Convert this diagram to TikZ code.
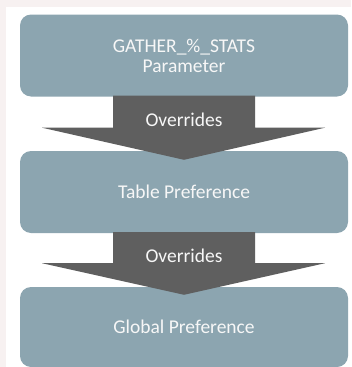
\documentclass[tikz,border=0pt]{standalone}
\usepackage{fontspec}
\setmainfont{Carlito}
\usetikzlibrary{calc}
\definecolor{pagebg}{HTML}{F7F1F1}
\definecolor{boxfill}{HTML}{8CA5B0}
\definecolor{arrowfill}{HTML}{5F5F5F}
\definecolor{txt}{HTML}{F7F7F7}
\tikzset{
  stagebox/.style={fill=boxfill, draw=none, rounded corners=11pt, minimum width=328pt, minimum height=82pt, inner sep=0pt, text=txt, align=center, font=\fontsize{19.5}{21}\selectfont},
  blockarrow/.style={fill=arrowfill, draw=none},
  arrowlabel/.style={text=txt, inner sep=0pt, font=\fontsize{19.5}{21}\selectfont}
}
\begin{document}
\begin{tikzpicture}[x=1pt,y=-1pt]
\useasboundingbox (0,0) rectangle (351,367);
\fill[pagebg] (0,0) rectangle (351,367);
\fill[white] (6,7) rectangle (351,367);
\node[stagebox] (b1) at (184,55.5) {GATHER\_\%\_STATS\\[-1pt]Parameter};
\node[stagebox] (b2) at (184,192) {Table Preference};
\node[stagebox, minimum height=80pt] (b3) at (184,327) {Global Preference};
% arrow 1
\fill[blockarrow] ($(b1.south)+(-71,-1)$) -- ($(b1.south)+(71,-1)$) -- ($(b1.south)+(71,31)$) -- ($(b1.south)+(141,31)$) -- ($(b2.north)+(0,9)$) -- ($(b1.south)+(-142,31)$) -- ($(b1.south)+(-71,31)$) -- cycle;
\node[arrowlabel] (o1) at ($(b1.south)+(0,23)$) {Overrides};
% arrow 2
\fill[blockarrow] ($(b2.south)+(-71,-1)$) -- ($(b2.south)+(71,-1)$) -- ($(b2.south)+(71,30)$) -- ($(b2.south)+(141,30)$) -- ($(b3.north)+(0,8)$) -- ($(b2.south)+(-142,30)$) -- ($(b2.south)+(-71,30)$) -- cycle;
\node[arrowlabel] (o2) at ($(b2.south)+(0,23)$) {Overrides};
\end{tikzpicture}
\end{document}
